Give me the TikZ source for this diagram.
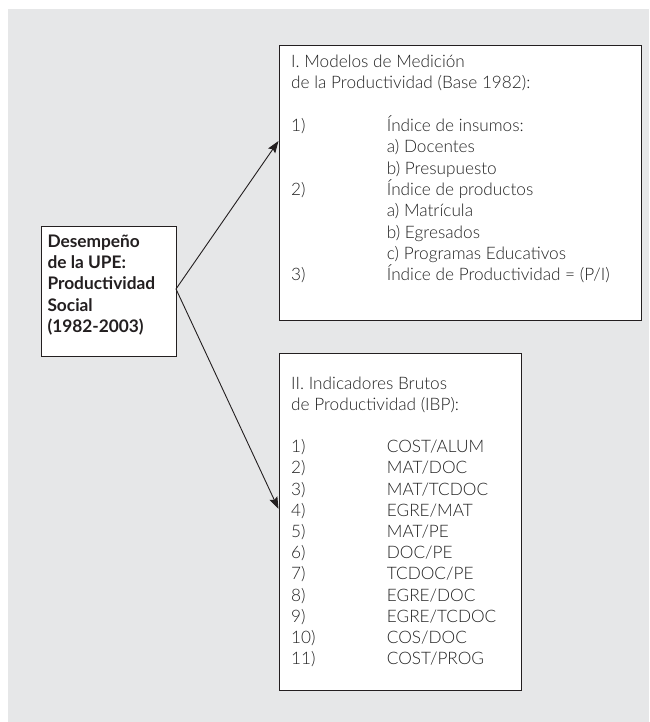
\documentclass[tikz,border=0pt]{standalone}
\usepackage{fontspec}
\usetikzlibrary{arrows.meta}
\IfFontExistsTF{Lato Light}{\newfontfamily\lightf{Lato Light}}{\newfontfamily\lightf{Lato}}
\newfontfamily\boldf{Lato Bold}
\definecolor{bggray}{HTML}{E6E7E8}
\definecolor{ink}{HTML}{231F20}
\definecolor{txt}{HTML}{222222}
\tikzset{
  box/.style={draw=ink, line width=1.3pt, fill=white, inner sep=0pt},
  lt/.style={anchor=base west, inner sep=0pt, text=txt, font=\lightf\fontsize{17.2}{20}\selectfont},
  bt/.style={anchor=base west, inner sep=0pt, text=ink, font=\boldf\fontsize{17.3}{21}\selectfont},
  conn/.style={draw=ink, line width=0.9pt, -{Stealth[length=12pt,width=8.5pt,inset=2pt]}}
}
\begin{document}
\begin{tikzpicture}[x=1pt,y=-1pt]
\useasboundingbox (0,0) rectangle (649,722);
\fill[bggray] (8,9) rectangle (649,722);
% boxes
\node[box, minimum width=135pt, minimum height=130pt, anchor=north west] (L) at (41,226) {};
\node[box, minimum width=362pt, minimum height=275pt, anchor=north west] (B1) at (279,45) {};
\node[box, minimum width=242pt, minimum height=337pt, anchor=north west] (B2) at (279,353) {};
% left text
\foreach \t [count=\i from 0] in {Desempeño,de la UPE:,Productividad,Social,(1982-2003)}
  \node[bt] (lt\i) at (47.3,247.3+21.33*\i) {\t};
% box 1 text
\node[lt] (a0) at (291,67.3) {I. Modelos de Medición};
\node[lt] (a1) at (291,88.6) {de la Productividad (Base 1982):};
\foreach \n/\k in {1)/3,2)/6,3)/10}
  \node[lt] (an\k) at (291,67.3+21.35*\k) {\n};
\foreach \t [count=\k from 3] in {Índice de insumos:,a) Docentes,b) Presupuesto,Índice de productos,a) Matrícula,b) Egresados,c) Programas Educativos,Índice de Productividad = (P/I)}
  \node[lt] (at\k) at (386.7,67.3+21.35*\k) {\t};
% box 2 text
\node[lt] (c0) at (291,389) {II. Indicadores Brutos};
\node[lt] (c1) at (291,410.2) {de Productividad (IBP):};
\foreach \t [count=\i from 1] in {COST/ALUM,MAT/DOC,MAT/TCDOC,EGRE/MAT,MAT/PE,DOC/PE,TCDOC/PE,EGRE/DOC,EGRE/TCDOC,COS/DOC,COST/PROG}{
  \node[lt] (cn\i) at (291,389+21.2*\i+42.4) {\i)};
  \node[lt] (ct\i) at (386.7,389+21.2*\i+42.4) {\t};
}
% connectors
\coordinate (t1) at (278.5,141);
\coordinate (t2) at (278.5,509);
\coordinate (s) at (176,289);
\draw[conn] (s) -- (t1);
\draw[conn] (s) -- (t2);
\end{tikzpicture}
\end{document}
